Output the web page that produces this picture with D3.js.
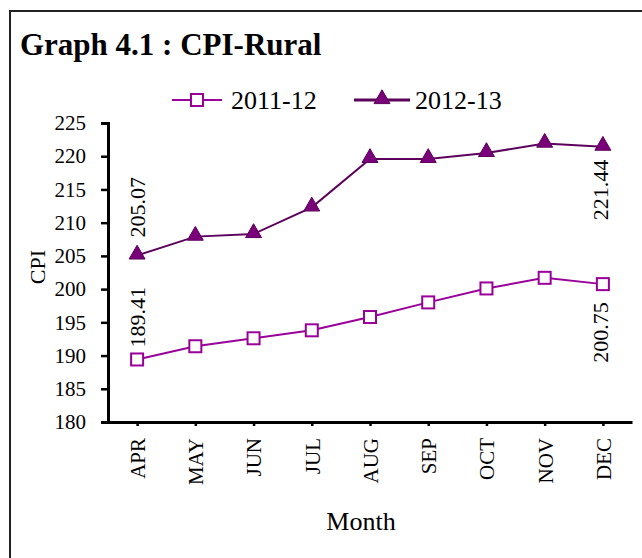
<!DOCTYPE html>
<html>
<head>
<meta charset="utf-8">
<script src="https://cdn.jsdelivr.net/npm/d3@7"></script>
<style>
  body { margin: 0; background: #fff; }
  svg { display: block; font-family: "Liberation Serif", "Times New Roman", serif; }
</style>
</head>
<body>
<div id="chart"></div>
<script>
/* Daten */
var months = ["APR", "MAY", "JUN", "JUL", "AUG", "SEP", "OCT", "NOV", "DEC"];
var cpi2011 = [189.41, 191.4, 192.6, 193.8, 195.8, 198.0, 200.1, 201.7, 200.75];
var cpi2012 = [205.07, 207.9, 208.3, 212.3, 219.6, 219.6, 220.5, 221.9, 221.44];
var yTicks = [180, 185, 190, 195, 200, 205, 210, 215, 220, 225];

var width = 642, height = 558;
var col1 = "#990099", col2 = "#5c005c", fill2 = "#7a007a";

var svg = d3.select("#chart").append("svg").attr("width", width).attr("height", height);
svg.append("rect").attr("width", width).attr("height", height).attr("fill", "white");

/* Rahmen */
svg.append("rect").attr("x", 10).attr("y", 11).attr("width", 700).attr("height", 600)
  .attr("fill", "none").attr("stroke", "#222").attr("stroke-width", 2);

/* Titel */
svg.append("text").attr("x", 20).attr("y", 55).attr("font-size", "31px").attr("font-weight", "bold")
  .text("Graph 4.1 : CPI-Rural");

/* Skalen */
var x = d3.scalePoint().domain(months).range([108, 632]).padding(0.5);
var y = d3.scaleLinear().domain([180, 225]).range([422, 123]);

/* Achsen */
var yAxis = svg.append("g").attr("transform", "translate(108,0)")
  .call(d3.axisLeft(y).tickValues(yTicks).tickSize(7).tickPadding(15));
yAxis.select(".domain").attr("stroke", "#000").attr("stroke-width", 3);
yAxis.selectAll(".tick line").attr("stroke", "#000").attr("stroke-width", 2.5);
yAxis.selectAll(".tick text").attr("font-size", "21px").attr("font-family", "Liberation Serif").attr("fill", "#000");

var xAxis = svg.append("g").attr("transform", "translate(0,422)")
  .call(d3.axisBottom(x).tickSize(4).tickSizeOuter(0));
xAxis.select(".domain").attr("stroke", "#000").attr("stroke-width", 3);
xAxis.selectAll(".tick line").attr("stroke", "#000").attr("stroke-width", 2.5);
xAxis.selectAll(".tick text").attr("font-size", "21px").attr("font-family", "Liberation Serif").attr("fill", "#000")
  .attr("transform", "rotate(-90)").attr("text-anchor", "end").attr("x", -16).attr("y", 0).attr("dy", "0.35em");

/* Achsentitel */
svg.append("text").attr("transform", "translate(45,267) rotate(-90)").attr("text-anchor", "middle")
  .attr("font-size", "22px").text("CPI");
svg.append("text").attr("x", 361).attr("y", 530).attr("text-anchor", "middle")
  .attr("font-size", "26px").text("Month");

/* Linien */
var line = d3.line().x(function(d, i) { return x(months[i]); }).y(function(d) { return y(d); });
svg.append("path").datum(cpi2011).attr("d", line).attr("fill", "none").attr("stroke", col1).attr("stroke-width", 2);
svg.append("path").datum(cpi2012).attr("d", line).attr("fill", "none").attr("stroke", col2).attr("stroke-width", 2);

svg.append("g").selectAll("rect").data(cpi2011).enter().append("rect")
  .attr("x", function(d, i) { return x(months[i]) - 6; }).attr("y", function(d) { return y(d) - 6; })
  .attr("width", 12).attr("height", 12).attr("fill", "white").attr("stroke", col1).attr("stroke-width", 2);

var tri = d3.symbol().type(d3.symbolTriangle).size(110);
svg.append("g").selectAll("path").data(cpi2012).enter().append("path")
  .attr("d", tri)
  .attr("transform", function(d, i) { return "translate(" + x(months[i]) + "," + (y(d) - 1) + ")"; })
  .attr("fill", fill2).attr("stroke", col2).attr("stroke-width", 1);

/* Datenbeschriftungen */
function vlabel(xp, yp, anchor, txt) {
  svg.append("text").attr("transform", "translate(" + (xp + 8) + "," + yp + ") rotate(-90)")
    .attr("text-anchor", anchor).attr("font-size", "22px").text(txt);
}
vlabel(x("APR"), y(cpi2012[0]) - 18, "start", "205.07");
vlabel(x("APR"), y(cpi2011[0]) - 12, "start", "189.41");
vlabel(x("DEC") - 3, y(cpi2012[8]) + 13, "end", "221.44");
vlabel(x("DEC") - 3, y(cpi2011[8]) + 18, "end", "200.75");

/* Legende */
var lg = svg.append("g");
lg.append("line").attr("x1", 172).attr("x2", 222).attr("y1", 100).attr("y2", 100).attr("stroke", col1).attr("stroke-width", 2);
lg.append("rect").attr("x", 191).attr("y", 94).attr("width", 12).attr("height", 12).attr("fill", "white").attr("stroke", col1).attr("stroke-width", 2);
lg.append("text").attr("x", 231).attr("y", 109).attr("font-size", "26px").text("2011-12");
lg.append("line").attr("x1", 354).attr("x2", 410).attr("y1", 100).attr("y2", 100).attr("stroke", col2).attr("stroke-width", 3);
lg.append("path").attr("d", tri).attr("transform", "translate(382,99)").attr("fill", fill2).attr("stroke", col2);
lg.append("text").attr("x", 415).attr("y", 109).attr("font-size", "26px").text("2012-13");
</script>
</body>
</html>
